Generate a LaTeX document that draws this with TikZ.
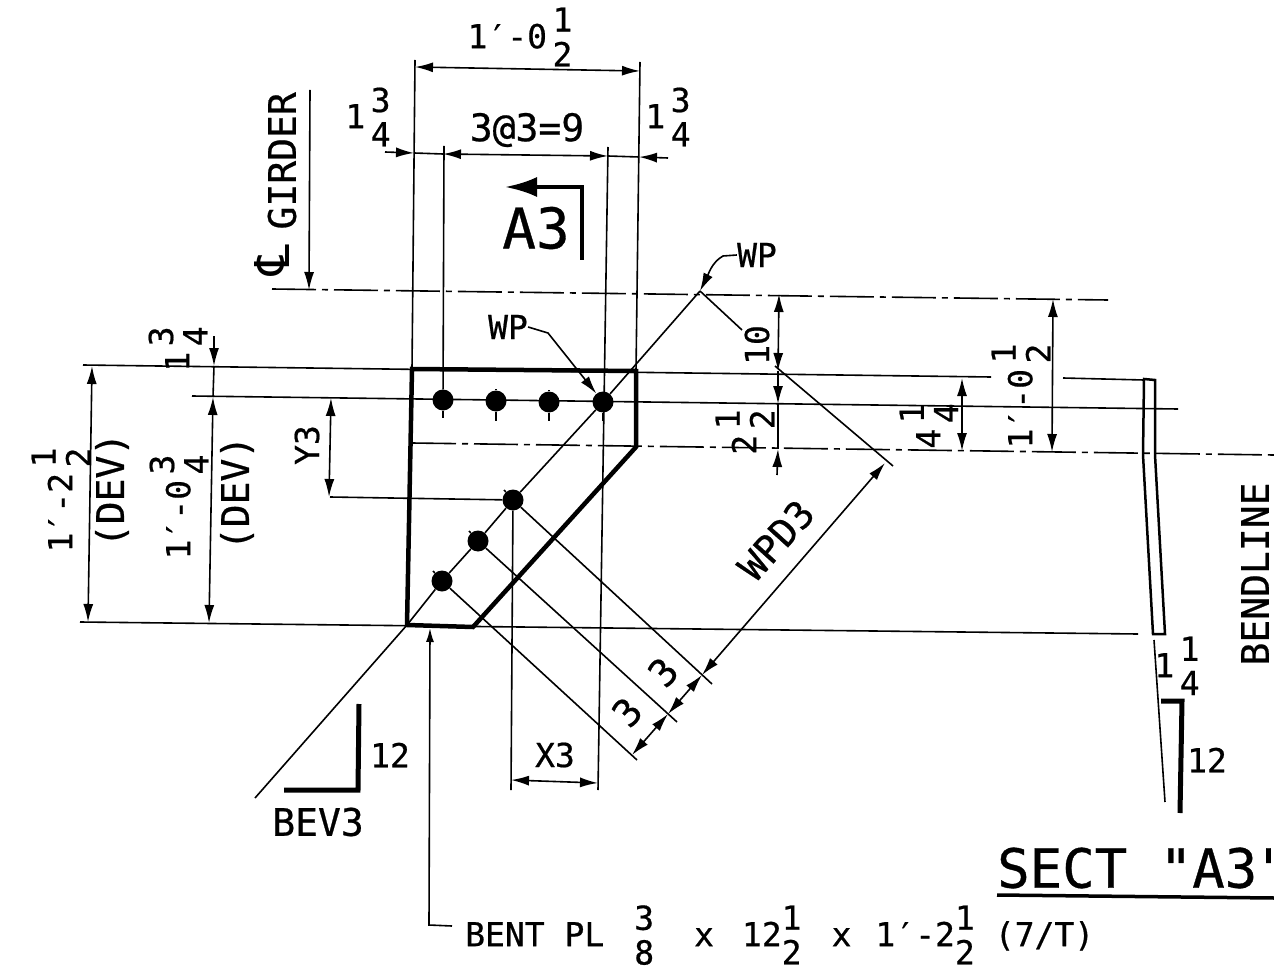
\documentclass[tikz,border=0pt]{standalone}
\usepackage{fontspec}
\usepackage{amsmath}
\usetikzlibrary{arrows.meta}
\newfontfamily\cad[FakeBold=0.6]{DejaVu Sans Mono}
\newfontfamily\cadsym{DejaVu Sans}
\newcommand{\stk}[2]{\begin{tabular}{@{}c@{}}#1\\#2\end{tabular}}
\tikzset{
    thinline/.style={line width=1.6pt},
    plateline/.style={line width=4.5pt, line join=miter},
    weldline/.style={line width=5pt},
    centerline/.style={line width=1.6pt, dash pattern=on 44pt off 6pt on 6pt off 6pt},
    dimboth/.style={thinline, {Latex[length=18pt,width=10pt]}-{Latex[length=18pt,width=10pt]}},
    dimto/.style={thinline, -{Latex[length=18pt,width=10pt]}},
    bolt/.style={circle, fill=black, inner sep=0pt, minimum size=21pt},
    lab/.style={inner sep=0pt, font=\cad\fontsize{33pt}{34pt}\selectfont},
    widelab/.style={inner sep=0pt, font=\cad\fontsize{38pt}{38pt}\selectfont},
    vlab/.style={lab, rotate=90},
    vwide/.style={widelab, rotate=90},
    dlab/.style={widelab, rotate=48}
}
\begin{document}
\begin{tikzpicture}[x=1pt, y=-1pt]
    \useasboundingbox (0,0) rectangle (1274,968);
    % plate
    \coordinate (pa) at (412,369); \coordinate (pb) at (636,371); \coordinate (pc) at (636,447);
    \coordinate (pd) at (473,627); \coordinate (pe) at (407,625);
    \draw[plateline] (pa) -- (pb) -- (pc) -- (pd) -- (pe) -- cycle;
    \node[bolt] (b1) at (443,400) {};
    \node[bolt] (b2) at (496,401) {};
    \node[bolt] (b3) at (549,402) {};
    \node[bolt] (b4) at (603,402) {};
    \node[bolt] (b5) at (513,500) {};
    \node[bolt] (b6) at (478,541) {};
    \node[bolt] (b7) at (442,581) {};
    % work lines
    \coordinate (wp) at (700,291); \coordinate (wl) at (255,798);
    \draw[thinline] (wp) -- (b4) -- (b5) -- (b6) -- (b7) -- (pe) -- (wl);
    \coordinate (ga) at (272,289); \coordinate (gb) at (1108,300);
    \draw[centerline] (ga) -- (gb);
    \coordinate (ba) at (412,443); \coordinate (bb) at (1274,455);
    \draw[centerline] (ba) -- (bb);
    \coordinate (ta) at (83,365); \coordinate (tb) at (991,377); \coordinate (tc) at (1063,378); \coordinate (td) at (1144,380);
    \draw[thinline] (ta) -- (tb) (tc) -- (td);
    \coordinate (ra) at (192,396); \coordinate (rb) at (1178,409);
    \draw[thinline] (ra) -- (rb);
    \coordinate (la) at (80,622); \coordinate (lb) at (1138,634);
    \draw[thinline] (la) -- (lb);
    % extension lines
    \coordinate (e1) at (415,60); \coordinate (e2) at (640,62); \coordinate (e3) at (444,146); \coordinate (e4) at (608,147);
    \coordinate (e5) at (598,790); \coordinate (e6) at (511,790); \coordinate (e7) at (330,497);
    \draw[thinline] (e1) -- (pa) (e2) -- (pb) (e3) -- (b1) (e4) -- (e5) (b5) -- (e6) (e7) -- (b5);
    \foreach \n/\s in {b1/418, b2/421, b3/421, b4/421} {
        \draw[thinline] (\n) -- (\n |- 0,\s);
    }
    \foreach \n in {b2, b3} {
        \draw[thinline] (\n) -- ++(0,-12);
    }
    \foreach \n in {b5, b6, b7} {
        \draw[thinline] (\n) -- ++(-9,-10);
    }
    % diagonal dimensions
    \coordinate (w1) at (893,466); \coordinate (w2) at (742,330); \coordinate (w3) at (775,366);
    \coordinate (c1) at (712,684); \coordinate (c2) at (677,722); \coordinate (c3) at (637,760);
    \draw[thinline] (wp) -- (w2) (w3) -- (w1) (b5) -- (c1) (b6) -- (c2) (b7) -- (c3);
    \coordinate (d1) at (885,463); \coordinate (d2) at (702,675); \coordinate (d3) at (668,714); \coordinate (d4) at (632,755);
    \draw[dimboth] (d1) -- (d2);
    \draw[dimboth] (d2) -- (d3);
    \draw[dimboth] (d3) -- (d4);
    % top dimensions
    \coordinate (t1) at (415,67); \coordinate (t2) at (640,71);
    \draw[dimboth] (t1) -- (t2);
    \coordinate (s0) at (385,152); \coordinate (s1) at (414,153); \coordinate (s2) at (443,154);
    \coordinate (s3) at (608,156); \coordinate (s4) at (639,157); \coordinate (s5) at (668,158);
    \draw[dimto] (s0) -- (s1);
    \draw[thinline] (s1) -- (s2);
    \draw[dimboth] (s2) -- (s3);
    \draw[thinline] (s3) -- (s4);
    \draw[dimto] (s5) -- (s4);
    % left dimensions
    \coordinate (l1) at (92,366); \coordinate (l2) at (88,622);
    \draw[dimboth] (l1) -- (l2);
    \coordinate (l3) at (213,397); \coordinate (l4) at (209,623); \coordinate (l5) at (214,336); \coordinate (l6) at (214,366);
    \draw[dimboth] (l3) -- (l4);
    \draw[dimto] (l5) -- (l6);
    \draw[thinline] (l6) -- (l3);
    \coordinate (y1) at (331,398); \coordinate (y2) at (329,497);
    \draw[dimboth] (y1) -- (y2);
    % right dimensions
    \coordinate (r1) at (779,294); \coordinate (r2) at (778,371); \coordinate (r3) at (778,404); \coordinate (r4) at (778,449); \coordinate (r5) at (777,475);
    \draw[dimboth] (r1) -- (r2);
    \draw[dimto] (r2) -- (r3);
    \draw[dimto] (r5) -- (r4);
    \draw[thinline] (r3) -- (r4);
    \coordinate (f1) at (962,378); \coordinate (f2) at (962,451);
    \draw[dimboth] (f1) -- (f2);
    \coordinate (h1) at (1053,299); \coordinate (h2) at (1052,452);
    \draw[dimboth] (h1) -- (h2);
    % bottom dimension
    \coordinate (x1) at (511,780); \coordinate (x2) at (598,783);
    \draw[dimboth] (x1) -- (x2);
    % girder line
    \coordinate (g1) at (310,90); \coordinate (g2) at (309,290);
    \draw[dimto] (g1) -- (g2);
    % section mark
    \coordinate (m1) at (582,260); \coordinate (m2) at (582,187); \coordinate (m3) at (505,187);
    \draw[line width=4pt, -{Latex[length=32pt,width=20pt]}] (m1) -- (m2) -- (m3);
    % work point leaders
    \node[lab] (wpa) at (757,255) {WP};
    \node[lab] (wpb) at (508,327) {WP};
    \draw[dimto] (wpa.west) -- ++(-14,1) .. controls (712,262) and (708,275) .. (wp);
    \coordinate (wk) at (548,333);
    \draw[dimto] (wpb.east) -- (wk) -- (b4);
    % side section
    \coordinate (q1) at (1144,379); \coordinate (q2) at (1143,455); \coordinate (q3) at (1153,634);
    \coordinate (q4) at (1165,634); \coordinate (q5) at (1155,455); \coordinate (q6) at (1155,380);
    \draw[line width=2.5pt] (q1) -- (q2) -- (q3) -- (q4) -- (q5) -- (q6) -- cycle;
    \coordinate (q7) at (1154,640); \coordinate (q8) at (1165,802);
    \draw[thinline] (q7) -- (q8);
    % weld marks
    \coordinate (k1) at (1161,701); \coordinate (k2) at (1182,701); \coordinate (k3) at (1180,813);
    \draw[weldline] (k1) -- (k2) -- (k3);
    \coordinate (v1) at (359,704); \coordinate (v2) at (358,790); \coordinate (v3) at (284,790);
    \draw[weldline] (v1) -- (v2) -- (v3);
    % plate leader
    \coordinate (n0) at (430,628); \coordinate (n1) at (429,925); \coordinate (n2) at (452,926);
    \draw[thinline, {Latex[length=14pt,width=8pt]}-] (n0) -- (n1) -- (n2);
    % labels
    \node[lab] (topdim) at (520,42) {1′-0\,\stk{1}{2}};
    \node[widelab] (pitch) at (527,130) {3@3=9};
    \node[lab] (edgel) at (368,122) {1\,\stk{3}{4}};
    \node[lab] (edger) at (668,122) {1\,\stk{3}{4}};
    \node[inner sep=0pt, font=\cad\fontsize{56pt}{56pt}\selectfont] (sect) at (536,228) {A3};
    \node[widelab, rotate=90, anchor=east] (girder) at (282,92) {GIRDER};
    \node[inner sep=0pt, rotate=90, font=\cadsym\fontsize{48pt}{48pt}\selectfont] (cl) at (272,260) {℄};
    \node[vlab] (devl) at (66,500) {1′-2\,\stk{1}{2}};
    \node[vwide] (devlb) at (112,490) {(DEV)};
    \node[vlab] (devr) at (184,507) {1′-0\,\stk{3}{4}};
    \node[vwide] (devrb) at (237,493) {(DEV)};
    \node[vlab] (edgey) at (183,349) {1\,\stk{3}{4}};
    \node[vlab] (ythree) at (307,445) {Y3};
    \node[vlab] (ten) at (757,345) {10};
    \node[vlab] (twohalf) at (750,432) {2\,\stk{1}{2}};
    \node[vlab] (fourq) at (934,426) {4\,\stk{1}{4}};
    \node[vlab] (lift) at (1026,396) {1′-0\,\stk{1}{2}};
    \node[vwide] (bend) at (1255,574) {BENDLINE};
    \node[dlab] (wpd) at (776,540) {WPD3};
    \node[dlab] (dimc) at (663,672) {3};
    \node[dlab] (dimd) at (627,712) {3};
    \node[lab] (xthree) at (555,755) {X3};
    \node[lab] (weldl) at (390,755) {12};
    \node[lab] (weldr) at (1207,760) {12};
    \node[widelab] (bev) at (318,822) {BEV3};
    \node[lab] (thk) at (1177,671) {1\,\stk{1}{4}};
    \node[lab, anchor=west] (bent) at (465,940) {BENT PL\hspace{30pt}\stk{3}{8}\hspace{40pt}x\hspace{28pt}12\stk{1}{2}\hspace{30pt}x\hspace{24pt}1′-2\stk{1}{2}\hspace{20pt}(7/T)};
    \node[inner sep=0pt, anchor=west, font=\cad\fontsize{54pt}{54pt}\selectfont] (title) at (997,868) {SECT "A3"};
    \coordinate (u1) at (997,895); \coordinate (u2) at (1274,898);
    \draw[line width=3.5pt] (u1) -- (u2);
\end{tikzpicture}
\end{document}
